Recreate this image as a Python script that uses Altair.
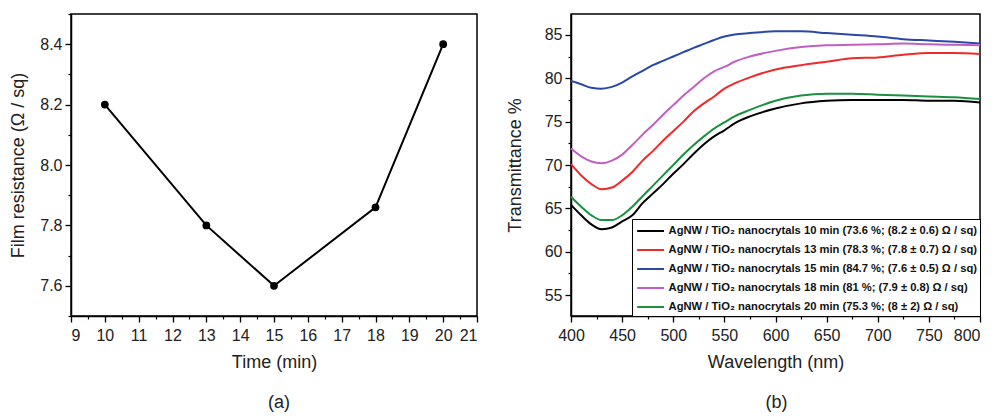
import altair as alt
import pandas as pd

FONT = "Liberation Sans"

# ---------------- panel (a) data ----------------
time_min = [10, 13, 15, 18, 20]
resistance = [8.2, 7.8, 7.6, 7.86, 8.4]

# ---------------- panel (b) data ----------------
wavelength = [400, 410, 420, 430, 440, 450, 460, 470, 480, 490, 500, 510, 520, 530,
              540, 550, 560, 575, 600, 625, 650, 675, 700, 725, 750, 775, 800]
t_10min = [65.4, 64.2, 63.15, 62.6, 62.8, 63.5, 64.2, 65.6, 66.7, 67.8, 69.0, 70.1, 71.3, 72.4,
           73.3, 74.0, 74.8, 75.6, 76.5, 77.1, 77.4, 77.5, 77.5, 77.5, 77.4, 77.4, 77.2]
t_13min = [70.1, 68.8, 67.8, 67.2, 67.4, 68.2, 69.2, 70.5, 71.6, 72.8, 73.9, 75.0, 76.2, 77.1,
           77.9, 78.8, 79.4, 80.1, 81.0, 81.5, 81.9, 82.3, 82.4, 82.7, 82.9, 82.9, 82.8]
t_15min = [79.7, 79.3, 78.9, 78.8, 79.0, 79.5, 80.2, 80.85, 81.5, 82.0, 82.5, 83.0, 83.5, 83.95,
           84.4, 84.8, 85.05, 85.2, 85.4, 85.4, 85.2, 85.0, 84.8, 84.5, 84.35, 84.2, 84.0]
t_18min = [71.9, 71.0, 70.4, 70.2, 70.5, 71.2, 72.3, 73.5, 74.6, 75.8, 76.9, 78.0, 79.0, 80.0,
           80.8, 81.3, 81.9, 82.5, 83.15, 83.6, 83.8, 83.85, 83.9, 84.0, 83.9, 83.85, 83.8]
t_20min = [66.35, 65.2, 64.2, 63.65, 63.65, 64.2, 65.2, 66.4, 67.6, 68.8, 70.0, 71.2, 72.3, 73.3,
           74.2, 74.9, 75.6, 76.35, 77.4, 78.0, 78.2, 78.2, 78.1, 78.0, 77.9, 77.8, 77.6]

series_labels = [
    "AgNW / TiO₂ nanocrytals 10 min (73.6 %; (8.2 ± 0.6) Ω / sq)",
    "AgNW / TiO₂ nanocrytals 13 min (78.3 %; (7.8 ± 0.7) Ω / sq)",
    "AgNW / TiO₂ nanocrytals 15 min (84.7 %; (7.6 ± 0.5) Ω / sq)",
    "AgNW / TiO₂ nanocrytals 18 min (81 %; (7.9 ± 0.8) Ω / sq)",
    "AgNW / TiO₂ nanocrytals 20 min (75.3 %; (8 ± 2) Ω / sq)",
]
series_colors = ["#000000", "#ee2a2a", "#2a48a8", "#c25ec2", "#1a9040"]

x_major_a = list(range(9, 22))
x_minor_a = [v + 0.5 for v in range(9, 21)]
y_major_a = [7.6, 7.8, 8.0, 8.2, 8.4]
y_minor_a = [7.5, 7.7, 7.9, 8.1, 8.3, 8.5]

x_major_b = [400, 450, 500, 550, 600, 650, 700, 750, 800]
x_minor_b = [425, 475, 525, 575, 625, 675, 725, 775]
y_major_b = [55, 60, 65, 70, 75, 80, 85]
y_minor_b = [52.5, 57.5, 62.5, 67.5, 72.5, 77.5, 82.5, 87.5]

df_a = pd.DataFrame({"time": time_min, "res": resistance})

rows = []
for lab, vals in zip(series_labels, [t_10min, t_13min, t_15min, t_18min, t_20min]):
    for w, v in zip(wavelength, vals):
        rows.append({"wl": w, "T": v, "series": lab})
df_b = pd.DataFrame(rows)

major_axis = dict(tickSize=6, tickWidth=1.3, tickColor="black", domainColor="black",
                  domainWidth=1.5, labelFont=FONT, labelFontSize=16, labelColor="#222",
                  titleFont=FONT, titleFontSize=18, titleFontWeight="normal",
                  titleColor="#222", grid=False)
minor_axis = dict(tickSize=3, tickWidth=1.2, tickColor="black", domain=False,
                  labels=False, grid=False, title=None)

# ---------------- panel (a) ----------------
xa = alt.Scale(domain=[9, 21], nice=False)
ya = alt.Scale(domain=[7.5, 8.5], nice=False)

a_line = alt.Chart(df_a).mark_line(color="black", strokeWidth=2).encode(
    x=alt.X("time:Q", scale=xa, axis=alt.Axis(values=x_major_a, orient="bottom",
                                              labelPadding=5, titlePadding=10, **major_axis),
            title="Time (min)"),
    y=alt.Y("res:Q", scale=ya, axis=alt.Axis(values=y_major_a, orient="left", format=".1f",
                                             labelPadding=3, titlePadding=12, **major_axis),
            title="Film resistance (Ω / sq)"),
)
a_pts = alt.Chart(df_a).mark_point(filled=True, color="black", size=60, opacity=1).encode(
    x=alt.X("time:Q", scale=xa, axis=alt.Axis(values=x_minor_a, orient="bottom", **minor_axis)),
    y=alt.Y("res:Q", scale=ya, axis=alt.Axis(values=y_minor_a, orient="left", **minor_axis)),
)
panel_a = alt.layer(a_line, a_pts).resolve_axis(x="independent", y="independent").properties(
    width=406, height=302,
    title=alt.TitleParams("(a)", orient="bottom", fontSize=18, fontWeight="normal",
                          font=FONT, color="#222", offset=23, dx=5),
)

# ---------------- panel (b) ----------------
xb = alt.Scale(domain=[400, 800], nice=False)
yb = alt.Scale(domain=[52.6, 87.4], nice=False)

b_lines = alt.Chart(df_b).mark_line(strokeWidth=2, interpolate="monotone").encode(
    x=alt.X("wl:Q", scale=xb,
            axis=alt.Axis(values=x_major_b, orient="bottom", labelPadding=5, titlePadding=10,
                          labelAlign=alt.condition("datum.value == 800",
                                                   alt.value("right"), alt.value("center")),
                          **major_axis),
            title="Wavelength (nm)"),
    y=alt.Y("T:Q", scale=yb, axis=alt.Axis(values=y_major_b, orient="left",
                                           labelPadding=3, titlePadding=20, **major_axis),
            title="Transmittance %"),
    color=alt.Color("series:N", sort=series_labels,
                    scale=alt.Scale(domain=series_labels, range=series_colors),
                    legend=alt.Legend(orient="bottom-right", offset=0, title=None,
                                      strokeColor="black", fillColor="white", padding=3,
                                      symbolType="M-1.7,0H1.7", symbolStrokeWidth=2,
                                      symbolSize=250, symbolOffset=6.6,
                                      labelFont=FONT, labelFontSize=11.2,
                                      labelFontWeight="bold", labelColor="#111",
                                      rowPadding=4, labelOffset=9, labelLimit=400)),
    detail="series:N",
)
b_minor = alt.Chart(df_b).mark_point(opacity=0).encode(
    x=alt.X("wl:Q", scale=xb, axis=alt.Axis(values=x_minor_b, orient="bottom", **minor_axis)),
    y=alt.Y("T:Q", scale=yb, axis=alt.Axis(values=y_minor_b, orient="left", **minor_axis)),
)
panel_b = alt.layer(b_lines, b_minor).resolve_axis(x="independent", y="independent").properties(
    width=409, height=302,
    title=alt.TitleParams("(b)", orient="bottom", fontSize=18, fontWeight="normal",
                          font=FONT, color="#222", offset=23, dx=1),
)

chart = alt.hconcat(panel_a, panel_b, spacing=94, bounds="flush").resolve_scale(
    color="independent", x="independent", y="independent"
).resolve_legend(color="independent").properties(
    padding={"left": 1, "top": 4, "right": 0, "bottom": 0},
    background="white",
).configure_view(stroke="black", strokeWidth=1.5)

chart.save("out.html", embed_options={"renderer": "svg", "actions": False})
